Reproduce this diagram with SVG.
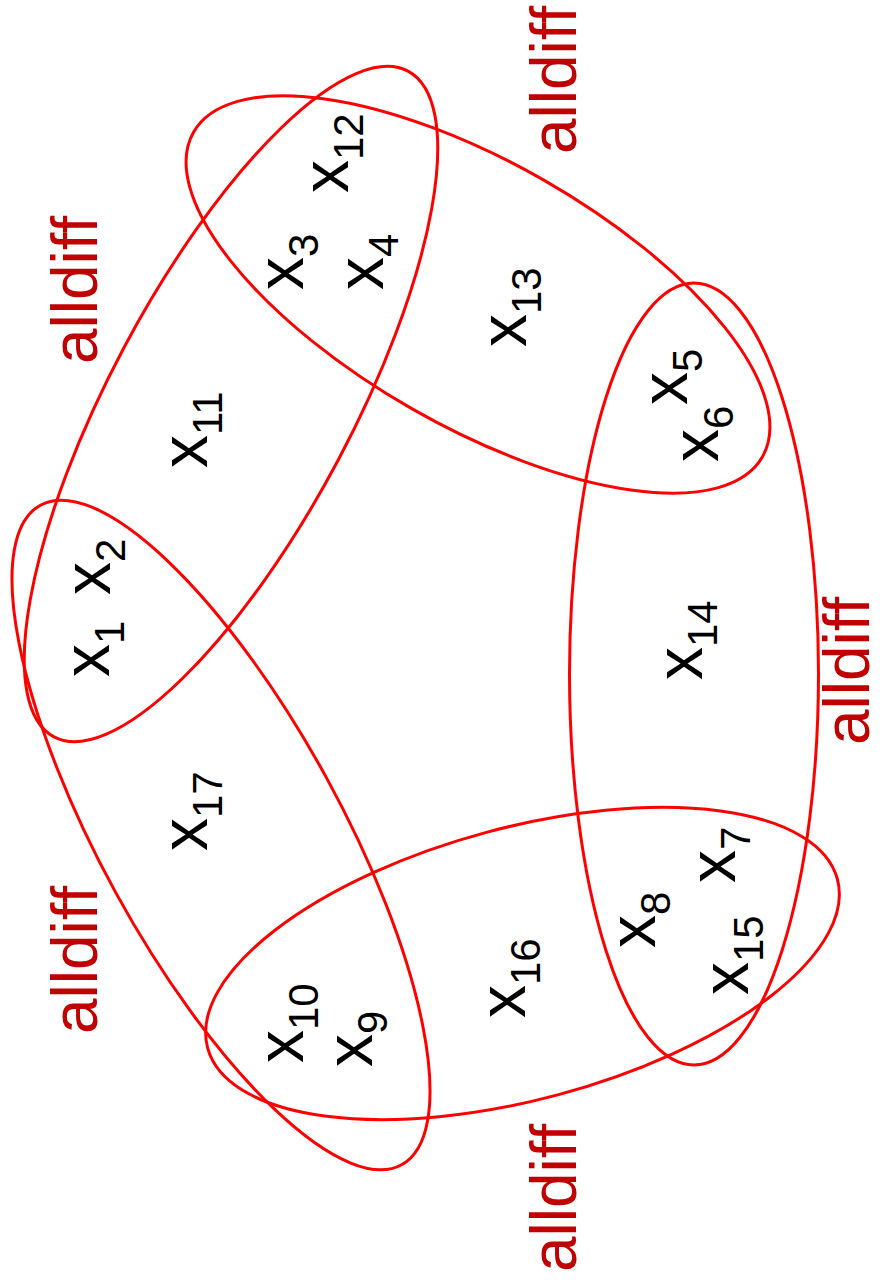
<svg xmlns="http://www.w3.org/2000/svg" width="883" height="1288" viewBox="0 0 883 1288">
<style>
.c{fill:none;stroke:#ff0000;stroke-width:3}
.lab{font-family:"Liberation Sans",Arial,sans-serif;font-size:64px;fill:#c00000}
.v{font-family:"Liberation Sans",Arial,sans-serif;font-size:66px;fill:#000}
.s{font-size:42px}
</style>
<rect width="883" height="1288" fill="#fff"/>
<g id="connectors"/>
<g id="c1">
<ellipse class="c" cx="231" cy="404" rx="377" ry="121" transform="rotate(-62 231 404)"/>
<text class="lab" transform="translate(97,364) rotate(-90)">alldiff</text>
</g>
<g id="c2">
<ellipse class="c" cx="478" cy="294.5" rx="327.5" ry="132" transform="rotate(29.7 478 294.5)"/>
<text class="lab" transform="translate(576,154) rotate(-90)">alldiff</text>
</g>
<g id="c3">
<ellipse class="c" cx="694" cy="674" rx="124.5" ry="391"/>
<text class="lab" transform="translate(869,745) rotate(-90)">alldiff</text>
</g>
<g id="c4">
<ellipse class="c" cx="522.5" cy="963.5" rx="326" ry="136" transform="rotate(-15 522.5 963.5)"/>
<text class="lab" transform="translate(576,1272) rotate(-90)">alldiff</text>
</g>
<g id="c5">
<ellipse class="c" cx="221" cy="835" rx="376" ry="120" transform="rotate(61.3 221 835)"/>
<text class="lab" transform="translate(97,1034) rotate(-90)">alldiff</text>
</g>
<g id="x1"><text class="v" transform="translate(109,677) rotate(-90)">x<tspan class="s" dy="15">1</tspan></text></g>
<g id="x2"><text class="v" transform="translate(110,595) rotate(-90)">x<tspan class="s" dy="15">2</tspan></text></g>
<g id="x3"><text class="v" transform="translate(303,290) rotate(-90)">x<tspan class="s" dy="15">3</tspan></text></g>
<g id="x4"><text class="v" transform="translate(383,290) rotate(-90)">x<tspan class="s" dy="15">4</tspan></text></g>
<g id="x5"><text class="v" transform="translate(687,405) rotate(-90)">x<tspan class="s" dy="15">5</tspan></text></g>
<g id="x6"><text class="v" transform="translate(718,462) rotate(-90)">x<tspan class="s" dy="15">6</tspan></text></g>
<g id="x7"><text class="v" transform="translate(735,883) rotate(-90)">x<tspan class="s" dy="15">7</tspan></text></g>
<g id="x8"><text class="v" transform="translate(655,948) rotate(-90)">x<tspan class="s" dy="15">8</tspan></text></g>
<g id="x9"><text class="v" transform="translate(372,1067) rotate(-90)">x<tspan class="s" dy="15">9</tspan></text></g>
<g id="x10"><text class="v" transform="translate(303,1063) rotate(-90)">x<tspan class="s" dy="15">10</tspan></text></g>
<g id="x11"><text class="v" transform="translate(207,468) rotate(-90)">x<tspan class="s" dy="15">11</tspan></text></g>
<g id="x12"><text class="v" transform="translate(348,193) rotate(-90)">x<tspan class="s" dy="15">12</tspan></text></g>
<g id="x13"><text class="v" transform="translate(526,347) rotate(-90)">x<tspan class="s" dy="15">13</tspan></text></g>
<g id="x14"><text class="v" transform="translate(702,680) rotate(-90)">x<tspan class="s" dy="15">14</tspan></text></g>
<g id="x15"><text class="v" transform="translate(748,995) rotate(-90)">x<tspan class="s" dy="15">15</tspan></text></g>
<g id="x16"><text class="v" transform="translate(525,1018) rotate(-90)">x<tspan class="s" dy="15">16</tspan></text></g>
<g id="x17"><text class="v" transform="translate(207,851) rotate(-90)">x<tspan class="s" dy="15">17</tspan></text></g>
</svg>
